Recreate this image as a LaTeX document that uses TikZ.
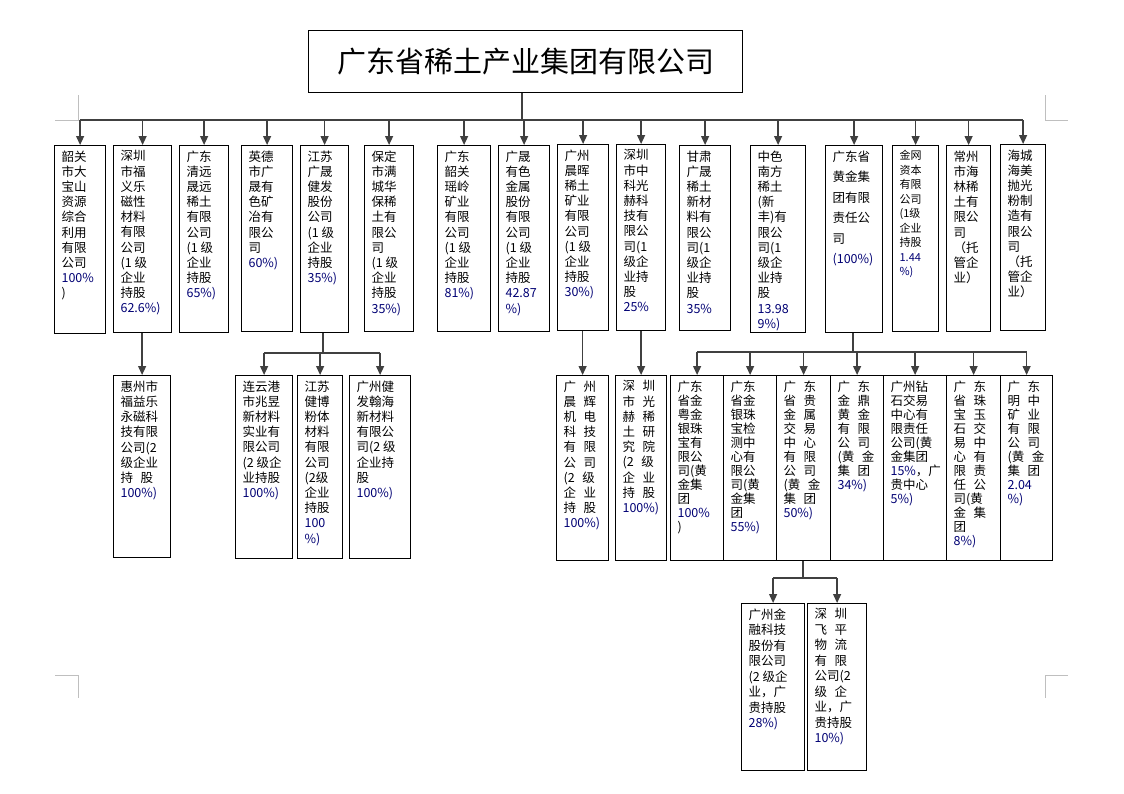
\documentclass[tikz,border=0pt]{standalone}
\usepackage{fontspec}
\setmainfont{Noto Sans CJK SC}
\usetikzlibrary{arrows.meta,positioning}
\colorlet{lineColor}{black!75}
\colorlet{pctColor}{blue!45!black}
\newcommand\cellbox[3]{\parbox[c][#2][t]{#1}{\vspace*{5pt}\raggedright\leftskip=7pt\rightskip=0pt plus 1fil #3\par}}
\newcommand\gap{\hspace{0.6em}}
\newcommand\pct[1]{\textcolor{pctColor}{#1}}
\tikzset{
  orgbox/.style={draw,line width=1.2pt,inner sep=0pt,anchor=north west,
    font=\fontsize{12.5}{15.2}\selectfont},
  link/.style={lineColor,line width=1.3pt},
  arr/.style={link,-{Triangle[length=9pt,width=8pt]}},
  cornermark/.style={black!25,line width=0.6pt}
}
% one box: name, x1, y1, x2, y2, text
\newcommand\orgnode[6]{\node[orgbox] (#1) at (#2,#3) {\cellbox{\dimexpr#4pt-#2pt\relax}{\dimexpr#5pt-#3pt\relax}{#6}};}
\begin{document}
\begin{tikzpicture}[x=1pt,y=-1pt]
\useasboundingbox (0,0) rectangle (1124,793);
% page corner marks
\draw[cornermark] (78,95) -- (78,120) -- (55,120);
\draw[cornermark] (1045,95) -- (1045,120) -- (1068,120);
\draw[cornermark] (55,675) -- (78,675) -- (78,698);
\draw[cornermark] (1068,675) -- (1045,675) -- (1045,698);

\node[draw,line width=1.2pt,inner sep=0pt,anchor=north west,minimum width=434pt,minimum height=62pt,
  font=\fontsize{29}{32}\selectfont] (top) at (308,30) {广东省稀土产业集团有限公司};

% first level
\orgnode{b1}{54}{145}{105}{333}{韶关\\市大\\宝山\\资源\\综合\\利用\\有限\\公司\\\pct{100\%}\\)}
\orgnode{b2}{113}{145}{171}{332}{深圳\\市福\\义乐\\磁性\\材料\\有限\\公司\\(1 级\\企业\\持股\\\pct{62.6\%)}}
\orgnode{b3}{179}{145}{228}{332}{广东\\清远\\晟远\\稀土\\有限\\公司\\(1 级\\企业\\持股\\\pct{65\%)}}
\orgnode{b4}{241}{145}{292}{331}{英德\\市广\\晟有\\色矿\\冶有\\限公\\司\\\pct{60\%)}}
\orgnode{b5}{300}{145}{348}{332}{江苏\\广晟\\健发\\股份\\公司\\(1 级\\企业\\持股\\\pct{35\%)}}
\orgnode{b6}{364}{145}{413}{331}{保定\\市满\\城华\\保稀\\土有\\限公\\司\\(1 级\\企业\\持股\\\pct{35\%)}}
\orgnode{b7}{437}{145}{490}{331}{广东\\韶关\\瑶岭\\矿业\\有限\\公司\\(1 级\\企业\\持股\\\pct{81\%)}}
\orgnode{b8}{498}{145}{549}{331}{广晟\\有色\\金属\\股份\\有限\\公司\\(1 级\\企业\\持股\\\pct{42.87}\\\pct{\%)}}
\orgnode{b9}{557}{144}{608}{330}{广州\\晨晖\\稀土\\矿业\\有限\\公司\\(1 级\\企业\\持股\\\pct{30\%)}}
\orgnode{b10}{616}{144}{665}{330}{深圳\\市中\\科光\\赫科\\技有\\限公\\司(1\\级企\\业持\\股\\\pct{25\%}}
\orgnode{b11}{679}{145}{730}{330}{甘肃\\广晟\\稀土\\新材\\料有\\限公\\司(1\\级企\\业持\\股\\\pct{35\%}}
\orgnode{b12}{750}{145}{805}{332}{中色\\南方\\稀土\\(新\\丰)有\\限公\\司(1\\级企\\业持\\股\\\pct{13.98}\\\pct{9\%)}}
\node[orgbox,font=\fontsize{12.5}{20.5}\selectfont] (b13) at (825,145) {\cellbox{57pt}{187pt}{广东省\\黄金集\\团有限\\责任公\\司\\\pct{(100\%)}}};
\node[orgbox,font=\fontsize{11}{14.5}\selectfont] (b14) at (892,145) {\cellbox{46pt}{186pt}{金网\\资本\\有限\\公司\\(1级\\企业\\持股\\\pct{1.44}\\\pct{\%)}}};
\orgnode{b15}{946}{145}{990}{331}{常州\\市海\\林稀\\土有\\限公\\司\\（托\\管企\\业）}
\orgnode{b16}{1000}{144}{1045}{330}{海城\\海美\\抛光\\粉制\\造有\\限公\\司\\（托\\管企\\业）}

% second level
\orgnode{c1}{113}{375}{170}{557}{惠州市\\福益乐\\永磁科\\技有限\\公司(2\\级企业\\持\gap 股\\\pct{100\%)}}
\orgnode{c2}{235}{375}{292}{558}{连云港\\市兆昱\\新材料\\实业有\\限公司\\(2 级企\\业持股\\\pct{100\%)}}
\orgnode{c3}{297}{375}{342}{558}{江苏\\健博\\粉体\\材料\\有限\\公司\\(2级\\企业\\持股\\\pct{100}\\\pct{\%)}}
\orgnode{c4}{349}{375}{410}{558}{广州健\\发翰海\\新材料\\有限公\\司(2 级\\企业持\\股\\\pct{100\%)}}
\orgnode{c5}{556}{375}{608}{560}{广\gap 州\\晨\gap 辉\\机\gap 电\\科\gap 技\\有\gap 限\\公\gap 司\\(2\gap 级\\企\gap 业\\持\gap 股\\\pct{100\%)}}
\orgnode{c6}{615}{375}{666}{560}{深\gap 圳\\市\gap 光\\赫\gap 稀\\土\gap 研\\究\gap 院\\(2\gap 级\\企\gap 业\\持\gap 股\\\pct{100\%)}}

\tikzset{orgbox/.append style={font=\fontsize{12.5}{14}\selectfont}}
\orgnode{d1}{670}{375}{723}{560}{广东\\省金\\粤金\\银珠\\宝有\\限公\\司(黄\\金集\\团\\\pct{100\%}\\)}
\orgnode{d2}{723}{375}{776}{560}{广东\\省金\\银珠\\宝检\\测中\\心有\\限公\\司(黄\\金集\\团\\\pct{55\%)}}
\orgnode{d3}{776}{375}{830}{560}{广\gap 东\\省\gap 贵\\金\gap 属\\交\gap 易\\中\gap 心\\有\gap 限\\公\gap 司\\(黄\gap 金\\集\gap 团\\\pct{50\%)}}
\orgnode{d4}{830}{375}{883}{560}{广\gap 东\\金\gap 鼎\\黄\gap 金\\有\gap 限\\公\gap 司\\(黄\gap 金\\集\gap 团\\\pct{34\%)}}
\orgnode{d5}{883}{375}{946}{560}{广州钻\\石交易\\中心有\\限责任\\公司(黄\\金集团\\\pct{15\%}，广\\贵中心\\\pct{5\%)}}
\orgnode{d6}{946}{375}{1000}{560}{广\gap 东\\省\gap 珠\\宝\gap 玉\\石\gap 交\\易\gap 中\\心\gap 有\\限\gap 责\\任\gap 公\\司(黄\\金\gap 集\\团\\\pct{8\%)}}
\orgnode{d7}{1000}{375}{1052}{560}{广\gap 东\\明\gap 中\\矿\gap 业\\有\gap 限\\公\gap 司\\(黄\gap 金\\集\gap 团\\\pct{2.04}\\\pct{\%)}}

% third level
\tikzset{orgbox/.append style={font=\fontsize{12.5}{15.5}\selectfont}}
\orgnode{e1}{741}{603}{804}{770}{广州金\\融科技\\股份有\\限公司\\(2 级企\\业，广\\贵持股\\\pct{28\%)}}
\orgnode{e2}{807}{603}{866}{770}{深\gap 圳\\飞\gap 平\\物\gap 流\\有\gap 限\\公司(2\\级\gap 企\\业，广\\贵持股\\\pct{10\%)}}

% connectors
\coordinate (bus) at (522,120);
\draw[link] (top.south -| bus) -- (bus);
\draw[link] (bus -| b1.north) -- (bus -| b16.north);
\foreach \b in {b1,b2,b3,b4,b5,b6,b7,b8,b9,b10,b11,b12,b13,b14,b15,b16}
  \draw[arr] (bus -| \b.north) -- (\b.north);

\draw[arr] (c1.north |- b2.south) -- (c1.north);
\draw[arr] (c5.north |- b9.south) -- (c5.north);
\draw[arr] (c6.north |- b10.south) -- (c6.north);

\coordinate (busc) at (323,353);
\draw[link] (busc |- b5.south) -- (busc);
\draw[link] (busc -| c2.north) -- (busc -| c4.north);
\foreach \c in {c2,c3,c4}
  \draw[arr] (busc -| \c.north) -- (\c.north);

\coordinate (busd) at (853,352);
\draw[link] (busd |- b13.south) -- (busd);
\draw[link] (busd -| d1.north) -- (busd -| d7.north);
\foreach \d in {d1,d2,d3,d4,d5,d6,d7}
  \draw[arr] (busd -| \d.north) -- (\d.north);

\coordinate (buse) at (803,578);
\draw[link] (buse |- d3.south) -- (buse);
\draw[link] (buse -| e1.north) -- (buse -| e2.north);
\foreach \e in {e1,e2}
  \draw[arr] (buse -| \e.north) -- (\e.north);
\end{tikzpicture}
\end{document}
